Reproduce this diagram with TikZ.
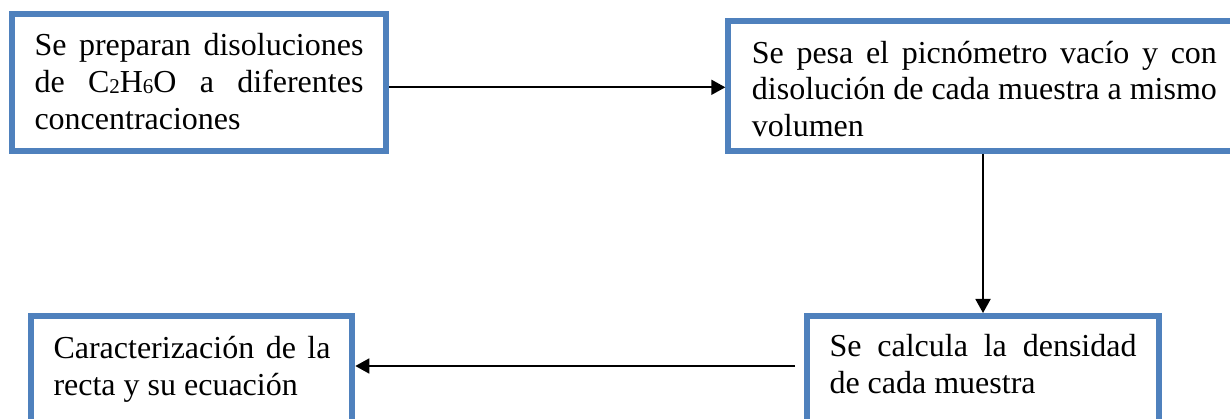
\documentclass[tikz,border=0pt]{standalone}
\usepackage{fontspec}
\setmainfont{Liberation Serif}
\usetikzlibrary{arrows.meta}
\definecolor{boxblue}{HTML}{4F81BD}
\hyphenpenalty=10000
\exhyphenpenalty=10000
\tolerance=9999
\newcommand{\subdig}[1]{\raisebox{-1.5pt}{\fontsize{21}{21}\selectfont #1}}
\begin{document}
\begin{tikzpicture}[x=1pt,y=-1pt,
  box/.style={draw=boxblue, line width=6pt, rectangle, inner sep=0pt},
  txt/.style={anchor=base west, inner sep=0pt, align=justify, font=\fontsize{32}{36.7}\selectfont},
  arr/.style={line width=1.8pt, -{Triangle[length=14pt,width=15pt]}}]
\useasboundingbox (0,0) rectangle (1230,419);
\clip (0,0) rectangle (1230,419);
% boxes
\node[box, minimum width=374.3pt, minimum height=137pt] (b1) at (198.85,82.5) {};
\node[box, minimum width=571.7pt, minimum height=130.3pt] (b2) at (1014.15,85.85) {};
\node[box, minimum width=321pt, minimum height=184pt] (b3) at (191.8,408) {};
\node[box, minimum width=352pt, minimum height=184pt] (b4) at (983,408) {};
% texts
\node[txt, text width=329pt] (t1) at (34.3,55.7) {Se preparan disoluciones de C\subdig{2}H\subdig{6}O a diferentes concentraciones};
\node[txt, text width=465pt] (t2) at (751.7,63.3) {Se pesa el picnómetro vacío y con disolución de cada muestra a mismo volumen};
\node[txt, text width=277pt] (t3) at (53.3,358.3) {Caracterización de la recta y su ecuación};
\node[txt, text width=307pt] (t4) at (829.3,356.7) {Se calcula la densidad de cada muestra};
% connectors
\coordinate (y1) at (0,87.3);
\coordinate (s3) at (795,366);
\draw[arr] (b1.east |- y1) -- (b2.west |- y1);
\draw[arr] (b4.north |- b2.south) -- (b4.north);
\draw[arr] (s3) -- (s3 -| b3.east);
\end{tikzpicture}
\end{document}
